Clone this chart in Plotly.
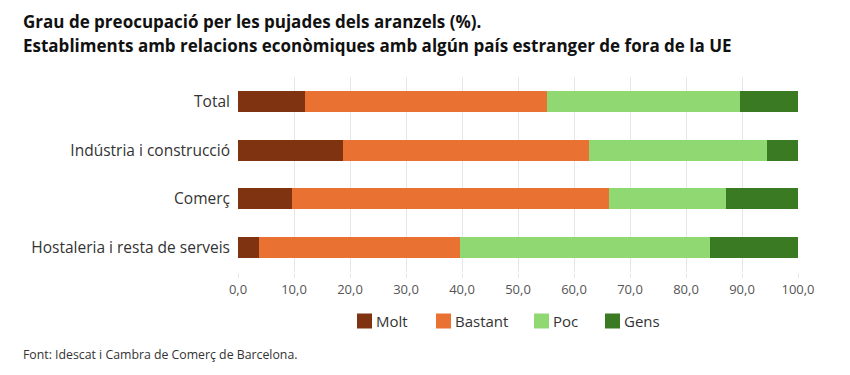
import plotly.graph_objects as go

categories = ["Total", "Indústria i construcció", "Comerç", "Hostaleria i resta de serveis"]
molt = [12.0, 18.7, 9.7, 3.7]
bastant = [43.2, 43.9, 56.5, 35.9]
poc = [34.5, 31.8, 21.0, 44.7]
gens = [10.3, 5.6, 12.8, 15.7]
series_names = ["Molt", "Bastant", "Poc", "Gens"]
colors = ["#7f3311", "#e97132", "#8fd872", "#3a7a22"]

# plot area in pixels
L, R, T, B = 238, 52, 77, 103
W, H = 850, 375
PW, PH = W - L - R, H - T - B
def px(x):
    return (x - L) / PW
def py(y):
    return (H - B - y) / PH

fig = go.Figure()
for name, vals, col in zip(series_names, [molt, bastant, poc, gens], colors):
    fig.add_trace(go.Bar(
        y=categories, x=vals, name=name, orientation="h",
        marker=dict(color=col, line=dict(width=0)),
        hoverinfo="x+name", showlegend=False,
    ))

fig.update_layout(
    width=W, height=H,
    barmode="stack",
    bargap=0.57,
    separators=",.",
    paper_bgcolor="white", plot_bgcolor="white",
    font=dict(family="Open Sans", size=13, color="#333333"),
    margin=dict(l=L, r=R, t=T, b=B, autoexpand=False),
    showlegend=False,
)
fig.update_xaxes(
    range=[0, 100], dtick=10, tickformat=".1f",
    showgrid=True, gridcolor="#e6e6e6", gridwidth=1,
    zeroline=False, showline=False,
    ticks="outside", ticklen=5, tickcolor="#e6e6e6",
    tickfont=dict(size=13, color="#555555"),
    automargin=False, fixedrange=True,
)
fig.update_yaxes(
    autorange="reversed", showgrid=False, showline=False,
    ticks="", ticklabelstandoff=7,
    tickfont=dict(size=15.5, color="#333333"),
    automargin=False, fixedrange=True,
)

# title lines
title_lines = [
    "Grau de preocupació per les pujades dels aranzels (%).",
    "Establiments amb relacions econòmiques amb algún país estranger de fora de la UE",
]
for line, yc in zip(title_lines, [22, 46]):
    fig.add_annotation(
        text="<b>" + line + "</b>", xref="paper", yref="paper",
        x=px(21), y=py(yc), xanchor="left", yanchor="middle", showarrow=False,
        font=dict(family="Open Sans", size=17, color="#111111"),
    )

# legend (manual)
legend_sq_x = [357, 436, 534, 605]
for name, col, sx in zip(series_names, colors, legend_sq_x):
    fig.add_shape(
        type="rect", xref="paper", yref="paper",
        x0=px(sx), x1=px(sx + 15), y0=py(328.5), y1=py(313.5),
        fillcolor=col, line=dict(width=0),
    )
    fig.add_annotation(
        text=name, xref="paper", yref="paper",
        x=px(sx + 17), y=py(321), xanchor="left", yanchor="middle",
        showarrow=False, font=dict(size=15, color="#333333"),
    )

fig.add_annotation(
    text="Font: Idescat i Cambra de Comerç de Barcelona.",
    xref="paper", yref="paper", x=px(21), y=py(354),
    xanchor="left", yanchor="middle", showarrow=False,
    font=dict(size=12.3, color="#333333"),
)

fig.write_html(
    "out.html",
    config={"displayModeBar": False},
    post_script="document.body.style.margin='0';document.body.style.overflow='hidden';",
)
